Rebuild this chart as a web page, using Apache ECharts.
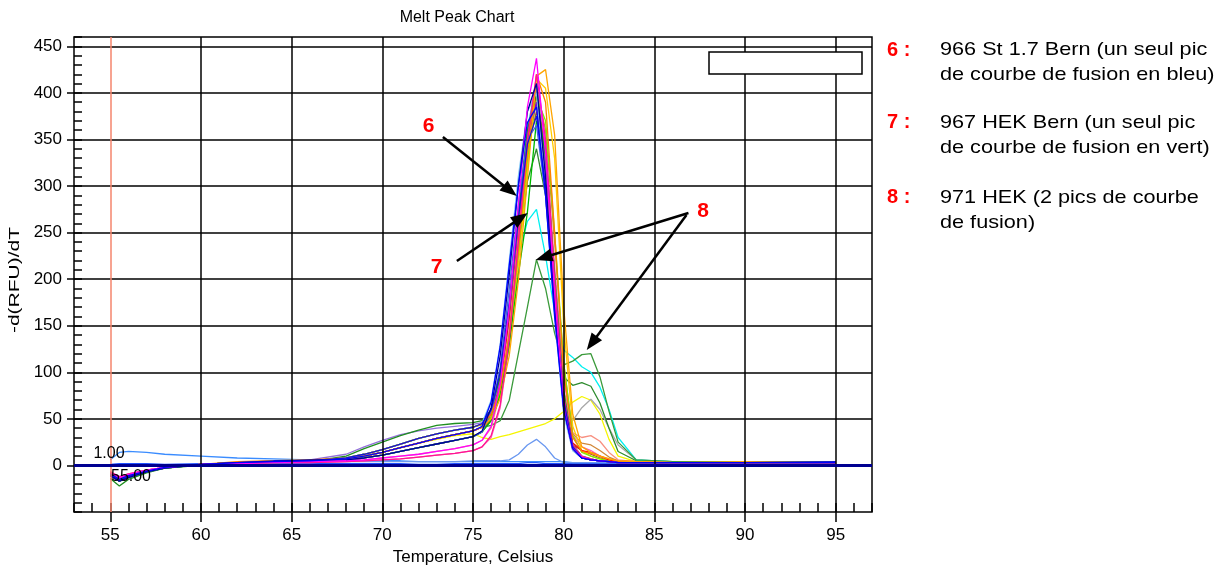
<!DOCTYPE html>
<html><head><meta charset="utf-8">
<script src="https://cdn.jsdelivr.net/npm/echarts@6/dist/echarts.min.js"></script>
<style>html,body{margin:0;padding:0;background:#fff}#c{width:1216px;height:567px}</style>
</head><body><div id="c"></div><script>
// Temperature grid (°C)
const T = [55,55.5,56,57,58,60,62,64,66,68,69,70,71,72,73,74,75,75.5,76,76.5,77,77.5,78,78.5,79,79.5,80,80.5,81,81.5,82,82.5,83,84,86,90,95];

// -d(RFU)/dT values, one array per well
const sBlue      = [-9,-15,-11,-6,-2,1,3,4,5,7,10,14,19,24,29,33,37,42,68,128,215,300,368,385,290,160,60,18,8,6,5,4,3,3,3,3,3];
const sNavy      = [-11,-17,-13,-7,-3,1,3,4,6,6,8,11,15,19,23,27,31,37,62,118,205,300,380,410,310,170,62,18,8,6,5,4,3,3,3,3,3];
const sBlue2     = [-10,-16,-12,-6,-2,1,3,5,5,8,12,17,23,29,34,38,41,45,60,100,175,265,345,375,300,175,70,20,8,6,5,4,3,3,3,3,4];
const sMagenta   = [-8,-13,-10,-5,-2,1,2,3,4,5,6,8,10,12,15,18,22,27,42,88,170,280,385,437,335,185,62,18,9,6,5,4,3,3,3,3,3];
const sDeepPink  = [-7,-12,-9,-5,-2,1,2,3,3,4,5,6,7,9,11,13,16,20,32,65,135,240,350,420,350,200,75,22,10,7,5,4,3,3,3,3,3];
const sOrange    = [-9,-15,-11,-6,-2,1,3,5,5,7,10,14,19,24,29,33,37,41,50,72,118,198,308,418,425,355,170,55,20,14,10,7,5,4,3,4,3];
const sDarkOrange= [-10,-16,-12,-6,-2,1,4,5,6,8,12,17,23,29,34,38,41,44,55,82,140,230,335,420,390,250,100,30,15,13,10,7,5,4,3,3,3];
const sRed       = [-9,-15,-11,-6,-2,1,3,4,5,7,10,14,19,24,29,33,37,41,55,90,160,260,352,400,335,190,72,24,16,14,10,6,4,3,3,3,3];
const sLime      = [-10,-16,-12,-6,-2,1,3,4,5,8,12,17,23,29,34,38,41,44,52,78,135,228,328,395,370,250,110,32,14,10,7,5,4,3,3,3,3];
const sGreen     = [-11,-17,-13,-7,-3,1,3,4,5,6,8,11,15,19,23,27,31,36,48,75,130,205,272,370,340,205,80,22,10,7,5,4,3,3,3,3,3];
const sForest    = [-14,-22,-15,-8,-3,0,2,3,4,10,18,25,32,38,43,45,46,48,60,95,170,270,360,400,330,180,62,17,8,6,5,4,3,3,3,3,3];
const sPurple    = [-10,-16,-12,-6,-2,1,3,4,6,12,20,27,33,37,40,42,44,46,58,92,168,265,355,405,320,172,58,16,8,6,5,4,3,3,3,3,3];
const sViolet    = [-9,-15,-11,-6,-2,1,3,4,5,7,10,14,19,24,29,33,37,41,56,92,165,262,348,390,315,175,65,19,9,6,5,4,3,3,3,3,3];
const sTurq      = [-10,-16,-12,-6,-2,1,3,4,5,8,12,17,23,29,34,38,41,44,58,96,172,272,362,410,325,180,66,19,9,6,5,4,3,3,3,3,3];
const sGold      = [-9,-15,-11,-6,-2,1,3,4,5,7,10,14,19,24,29,33,37,41,50,76,128,215,318,415,405,330,150,42,16,10,7,5,4,3,3,3,3];
const sBrown     = [-11,-17,-13,-7,-3,1,3,4,5,6,8,11,15,19,23,27,31,36,50,85,155,250,338,380,330,195,75,22,16,12,8,5,4,3,3,3,3];
const sSalmon    = [-8,-13,-10,-5,-2,1,2,3,4,5,6,8,10,12,15,18,22,27,40,78,150,252,345,395,335,200,80,35,30,32,26,14,6,4,3,3,3];
const sSky       = [-10,-16,-12,-6,-2,1,3,4,5,8,12,17,23,29,34,38,41,45,70,130,220,310,380,400,300,160,55,16,8,6,5,4,3,3,3,3,3];
const sRoyal     = [-11,-17,-13,-7,-3,1,3,4,5,6,8,11,15,19,23,27,31,36,58,105,190,280,350,365,290,165,62,18,8,6,5,4,3,3,3,3,3];
const sHotPink   = [-7,-12,-9,-5,-2,1,2,3,3,4,5,6,7,9,11,13,16,20,30,62,130,232,340,410,345,215,95,32,20,16,10,6,4,3,3,3,3];
const sPeru      = [-9,-15,-11,-6,-2,1,3,4,5,7,10,14,19,24,29,33,37,41,52,84,150,245,338,405,360,240,110,34,24,22,16,9,5,4,3,3,3];
const sTwoPeak   = [-9,-15,-11,-6,-2,1,3,4,5,7,10,14,19,24,29,33,37,41,43,48,70,120,170,221,190,142,108,112,119,120,95,58,25,6,4,4,4];
const sCyan      = [-10,-16,-12,-6,-2,1,3,4,5,8,12,17,23,29,34,38,41,44,55,95,160,225,262,275,225,165,124,116,106,100,84,60,30,6,4,4,4];
const sDarkGreen = [-11,-17,-13,-7,-3,1,3,4,5,6,8,11,15,19,23,27,31,36,50,82,145,230,305,340,290,180,95,86,89,85,67,40,15,5,4,4,4];
const sGray      = [-9,-15,-11,-6,-2,1,3,4,5,7,10,14,19,24,29,33,37,41,50,85,155,250,340,390,320,190,80,48,62,71,60,40,22,6,4,4,4];
const sYellow    = [-9,-15,-11,-6,-2,1,3,4,5,7,10,14,19,24,28,32,34,30,28,31,33,36,39,42,45,50,58,68,74,70,55,28,10,4,3,3,3];
const sCornflower= [-8,-13,-10,-5,-2,1,2,3,4,4,4,4,4,4,4,4,5,5,5,5,6,12,22,28,20,8,3,3,3,3,3,3,3,3,3,3,3];
const sLightBlue = [6,14,15,14,12,10,8,7,6,5,5,5,5,4,4,4,4,4,4,4,4,4,4,4,4,4,4,3,3,3,3,3,3,3,3,3,4];
const sFlatBlue  = [1,2,2,2,1,2,2,2,2,2,2,2,2,1,1,2,2,2,2,2,2,2,3,3,2,2,2,2,2,2,2,2,2,2,2,2,3];

// Axis ticks
const X_MAJOR = [55,60,65,70,75,80,85,90,95];
const X_GRID = [60,65,70,75,80,85,90,95];
const Y_MAJOR = [0,50,100,150,200,250,300,350,400,450];

const FONT = '"Liberation Sans", Arial, Helvetica, sans-serif';

const curves = [
  [sFlatBlue,'#1f50ff'],[sLightBlue,'#3a8cff'],[sCornflower,'#6a98f0'],[sYellow,'#f5f500'],
  [sGray,'#a8a8a8'],[sDarkGreen,'#2e8b2e'],[sCyan,'#00f0f0'],[sTwoPeak,'#3a9a3a'],
  [sPeru,'#d2883a'],[sBrown,'#a0522d'],[sSalmon,'#f89080'],[sHotPink,'#ff60b0'],
  [sGold,'#ffcc00'],[sTurq,'#20c8c0'],[sLime,'#7cf000'],[sRed,'#ff0000'],
  [sViolet,'#8a00c8'],[sPurple,'#9370db'],[sForest,'#1f8f1f'],[sGreen,'#00b800'],
  [sSky,'#80c8f8'],[sRoyal,'#3c64e6'],[sDarkOrange,'#ff8000'],[sOrange,'#ffa500'],
  [sDeepPink,'#ff1493'],[sBlue2,'#1414d8'],[sNavy,'#000096'],[sMagenta,'#ff00ff'],[sBlue,'#0000ff']
];

const series = curves.map(([vals,color]) => ({
  type:'line', data: T.map((t,i)=>[t, vals[i]]), symbol:'none', showSymbol:false,
  lineStyle:{color, width:1.3}, itemStyle:{color}, silent:true, z:3, animation:false
}));

// grid verticals
series.push({type:'line', data:[], silent:true, z:1, animation:false,
  markLine:{silent:true, symbol:['none','none'], label:{show:false}, animation:false,
    lineStyle:{color:'#000', width:1.5, type:'solid'},
    data: X_GRID.map(v=>({xAxis:v}))}});
// red marker at 55
series.push({type:'line', data:[], silent:true, z:2, animation:false,
  markLine:{silent:true, symbol:['none','none'], label:{show:false}, animation:false,
    lineStyle:{color:'#f4846c', width:1.5, type:'solid'}, data:[{xAxis:55}]}});
// navy baseline at 0
series.push({type:'line', data:[], silent:true, z:4, animation:false,
  markLine:{silent:true, symbol:['none','none'], label:{show:false}, animation:false,
    lineStyle:{color:'#000090', width:3, type:'solid'}, data:[{yAxis:0}]}});
// annotation arrows (start, arrowhead)
const ARROWS = [
  [[73.34,352.6],[77.05,294.9]],
  [[74.11,219.5],[77.63,265.8]],
  [[86.88,271.0],[78.90,223.2]],
  [[86.77,268.9],[81.55,131.2]]
];
series.push({type:'line', data:[], silent:true, z:6, animation:false,
  markLine:{silent:true, symbol:['none','triangle'], symbolSize:[13,17], label:{show:false}, animation:false,
    lineStyle:{color:'#000', width:2.5, type:'solid'},
    data: ARROWS.map(a=>[{coord:a[0]},{coord:a[1]}])}});

const txt = (x,y,text,opt) => ({type:'text', x, y, z:100, ...(opt.el||{}),
  style:Object.assign({text, fontFamily:FONT, fontSize:16, fill:'#000',
    align:'left', verticalAlign:'middle', textAlign:'left', textVerticalAlign:'middle'}, opt.style||{})});

const graphic = [
  txt(457,17.5,'Melt Peak Chart',{style:{align:'center',textAlign:'center'}}),
  txt(15,280,'-d(RFU)/dT',{el:{rotation:Math.PI/2, scaleX:1.4}, style:{fontSize:15, align:'center',textAlign:'center'}}),
  txt(109,454,'1.00',{style:{align:'center',textAlign:'center'}}),
  txt(131,477,'55.00',{style:{align:'center',textAlign:'center'}}),
  {type:'rect', z:100, shape:{x:709,y:52,width:153,height:22}, style:{fill:'#fff', stroke:'#000', lineWidth:1.5}},
  txt(428.5,126,'6',{style:{fontSize:21,fontWeight:'bold',fill:'#ff0000',align:'center',textAlign:'center'}}),
  txt(436.5,267.5,'7',{style:{fontSize:21,fontWeight:'bold',fill:'#ff0000',align:'center',textAlign:'center'}}),
  txt(703,211.5,'8',{style:{fontSize:21,fontWeight:'bold',fill:'#ff0000',align:'center',textAlign:'center'}}),
  txt(887,50,'6 :',{style:{fontSize:20,fontWeight:'bold',fill:'#ff0000'}}),
  txt(940,50,'966 St 1.7 Bern (un seul pic',{el:{scaleX:1.14}, style:{fontSize:19}}),
  txt(940,75,'de courbe de fusion en bleu)',{el:{scaleX:1.14}, style:{fontSize:19}}),
  txt(887,122.5,'7 :',{style:{fontSize:20,fontWeight:'bold',fill:'#ff0000'}}),
  txt(940,122.5,'967 HEK Bern (un seul pic',{el:{scaleX:1.14}, style:{fontSize:19}}),
  txt(940,147.5,'de courbe de fusion en vert)',{el:{scaleX:1.14}, style:{fontSize:19}}),
  txt(887,197.5,'8 :',{style:{fontSize:20,fontWeight:'bold',fill:'#ff0000'}}),
  txt(940,197.5,'971 HEK (2 pics de courbe',{el:{scaleX:1.14}, style:{fontSize:19}}),
  txt(940,222.5,'de fusion)',{el:{scaleX:1.14}, style:{fontSize:19}})
];

const GRID_BOX = {left:74, right:344, top:37, bottom:55, outerBoundsMode:'none', containLabel:false};
const noShow = {axisLine:{show:false, onZero:false}, axisLabel:{show:false}, splitLine:{show:false}};
const option = {
  animation:false,
  backgroundColor:'#fff',
  textStyle:{fontFamily:FONT},
  grid:[
    Object.assign({show:true, borderColor:'#000', borderWidth:1.5, backgroundColor:'#fff'}, GRID_BOX),
    Object.assign({show:false}, GRID_BOX),
    Object.assign({show:false}, GRID_BOX)
  ],
  xAxis:[
    {type:'value', gridIndex:0, min:53, max:97, interval:1,
     axisLine:{show:false, onZero:false}, axisTick:{show:false},
     axisLabel:{fontSize:17, color:'#000', margin:15, fontFamily:FONT,
       formatter:v => (X_MAJOR.indexOf(v) >= 0 ? String(v) : '')},
     splitLine:{show:false},
     name:'Temperature, Celsius', nameLocation:'middle', nameGap:36,
     nameTextStyle:{fontSize:17, color:'#000', fontFamily:FONT}},
    Object.assign({type:'value', gridIndex:1, position:'bottom', min:53, max:97, interval:1,
     axisTick:{show:true, inside:true, length:9, lineStyle:{color:'#000', width:1.5}}}, noShow),
    Object.assign({type:'value', gridIndex:2, position:'bottom', min:53, max:97,
     axisTick:{show:true, inside:false, length:10, customValues:X_MAJOR, lineStyle:{color:'#000', width:1.5}}}, noShow)
  ],
  yAxis:[
    {type:'value', gridIndex:0, min:-50, max:460, interval:50,
     axisLine:{show:false, onZero:false},
     axisTick:{show:true, inside:false, length:7, customValues:Y_MAJOR, lineStyle:{color:'#000', width:1.5}},
     axisLabel:{fontSize:17, color:'#000', margin:12, fontFamily:FONT,
       formatter:v => (Y_MAJOR.indexOf(v) >= 0 ? String(v) : '')},
     splitLine:{show:true, lineStyle:{color:'#000', width:1.5}}},
    Object.assign({type:'value', gridIndex:1, position:'left', min:-50, max:460, interval:10,
     axisTick:{show:true, inside:true, length:8, lineStyle:{color:'#000', width:1.5}}}, noShow),
    {type:'value', gridIndex:2, position:'left', min:-50, max:460, show:false}
  ],
  series,
  graphic
};
const chart = echarts.init(document.getElementById('c'), null, {renderer:'canvas'});
chart.setOption(option);
</script></body></html>
